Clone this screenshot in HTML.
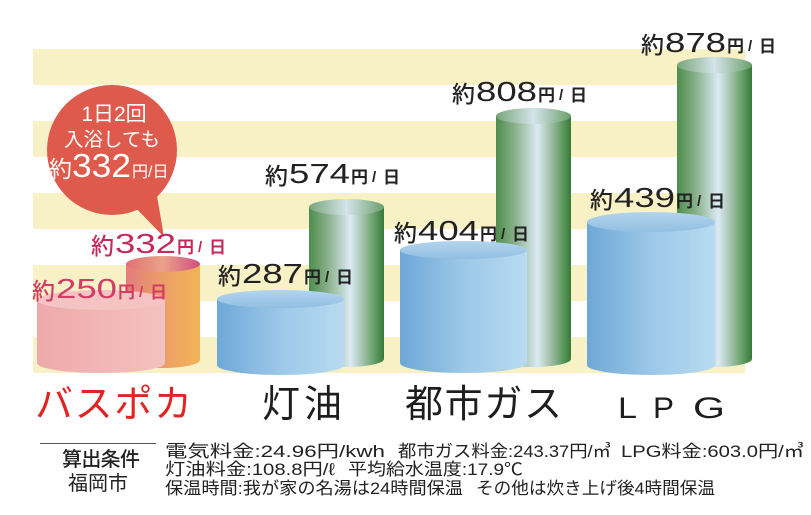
<!DOCTYPE html>
<html>
<head>
<meta charset="utf-8">
<style>
  html, body { margin:0; padding:0; background:#ffffff; }
  body { width:811px; height:515px; overflow:hidden; }
  svg { display:block; }
  .cjk { font-family: "Liberation Sans", "Noto Sans CJK JP", sans-serif; }
  .num { font-family: "Liberation Sans", "DejaVu Sans", sans-serif; }
</style>
</head>
<body>
<svg width="811" height="515" viewBox="0 0 811 515" xmlns="http://www.w3.org/2000/svg">
  <defs>
    <linearGradient id="gBody" x1="0" y1="0" x2="1" y2="0">
      <stop offset="0" stop-color="#4e8c4e"/>
      <stop offset="0.25" stop-color="#88b188"/>
      <stop offset="0.55" stop-color="#dbeaf3"/>
      <stop offset="0.7" stop-color="#abc6b3"/>
      <stop offset="0.9" stop-color="#5a975a"/>
      <stop offset="1" stop-color="#3a783a"/>
    </linearGradient>
    <linearGradient id="gTop" x1="0" y1="0" x2="1" y2="0">
      <stop offset="0" stop-color="#78a478"/>
      <stop offset="0.5" stop-color="#d4e4ea"/>
      <stop offset="1" stop-color="#6c9f6c"/>
    </linearGradient>
    <linearGradient id="bBody" x1="0" y1="0" x2="1" y2="0">
      <stop offset="0" stop-color="#6ea8d8"/>
      <stop offset="0.5" stop-color="#9cc8e8"/>
      <stop offset="1" stop-color="#b8dbf1"/>
    </linearGradient>
    <linearGradient id="bTop" x1="0" y1="0" x2="0" y2="1">
      <stop offset="0" stop-color="#b2d5ee"/>
      <stop offset="1" stop-color="#92bfe2"/>
    </linearGradient>
    <linearGradient id="pBody" x1="0" y1="0" x2="1" y2="0">
      <stop offset="0" stop-color="#eeaaaa"/>
      <stop offset="1" stop-color="#f4c2c0"/>
    </linearGradient>
    <linearGradient id="oBody" x1="0" y1="0" x2="1" y2="0">
      <stop offset="0" stop-color="#e47c7c"/>
      <stop offset="0.45" stop-color="#eb9c6a"/>
      <stop offset="1" stop-color="#f2b456"/>
    </linearGradient>
    <linearGradient id="oTop" x1="0" y1="0" x2="1" y2="0">
      <stop offset="0" stop-color="#e07272"/>
      <stop offset="0.5" stop-color="#eba28a"/>
      <stop offset="1" stop-color="#d24e80"/>
    </linearGradient>
  </defs>

  <!-- stripes -->
  <g fill="#f8f1c6">
    <rect x="33" y="49" width="712" height="36"/>
    <rect x="33" y="121" width="712" height="36"/>
    <rect x="33" y="193" width="712" height="36"/>
    <rect x="33" y="265" width="712" height="36"/>
    <rect x="33" y="337" width="712" height="36"/>
  </g>

  <!-- orange 332 -->
  <g>
    <rect x="126" y="264" width="74" height="96" fill="url(#oBody)"/>
    <ellipse cx="163" cy="360" rx="37" ry="8" fill="url(#oBody)"/>
    <ellipse cx="163" cy="264" rx="37" ry="8" fill="url(#oTop)"/>
  </g>
  <!-- pink 250 -->
  <g>
    <rect x="37" y="300" width="128" height="63" fill="url(#pBody)"/>
    <ellipse cx="101" cy="363" rx="64" ry="10" fill="url(#pBody)"/>
    <ellipse cx="101" cy="300" rx="64" ry="10" fill="#f4c4c2"/>
  </g>

  <!-- green 574 -->
  <g>
    <rect x="309" y="207" width="75" height="152" fill="url(#gBody)"/>
    <ellipse cx="346.5" cy="359" rx="37.5" ry="8" fill="url(#gBody)"/>
    <ellipse cx="346.5" cy="207" rx="37.5" ry="8" fill="url(#gTop)"/>
  </g>
  <!-- blue 287 -->
  <g>
    <rect x="217" y="299" width="127" height="66" fill="url(#bBody)"/>
    <ellipse cx="280.5" cy="365" rx="63.5" ry="10" fill="url(#bBody)"/>
    <ellipse cx="280.5" cy="299" rx="63.5" ry="9" fill="url(#bTop)"/>
  </g>

  <!-- green 808 -->
  <g>
    <rect x="496" y="116" width="75" height="243" fill="url(#gBody)"/>
    <ellipse cx="533.5" cy="359" rx="37.5" ry="8" fill="url(#gBody)"/>
    <ellipse cx="533.5" cy="116" rx="37.5" ry="8" fill="url(#gTop)"/>
  </g>
  <!-- blue 404 -->
  <g>
    <rect x="400" y="250" width="127" height="113" fill="url(#bBody)"/>
    <ellipse cx="463.5" cy="363" rx="63.5" ry="10" fill="url(#bBody)"/>
    <ellipse cx="463.5" cy="250" rx="63.5" ry="9" fill="url(#bTop)"/>
  </g>

  <!-- green 878 -->
  <g>
    <rect x="677" y="65" width="75" height="294" fill="url(#gBody)"/>
    <ellipse cx="714.5" cy="359" rx="37.5" ry="8" fill="url(#gBody)"/>
    <ellipse cx="714.5" cy="65" rx="37.5" ry="8" fill="url(#gTop)"/>
  </g>
  <!-- blue 439 -->
  <g>
    <rect x="587" y="222" width="128" height="143" fill="url(#bBody)"/>
    <ellipse cx="651" cy="365" rx="64" ry="10" fill="url(#bBody)"/>
    <ellipse cx="651" cy="222" rx="64" ry="10" fill="url(#bTop)"/>
  </g>

  <!-- speech bubble -->
  <g fill="#de5a4c">
    <circle cx="112" cy="150" r="65"/>
    <path d="M128 200 L156 190 L164 237 Z"/>
  </g>
  <g fill="#ffffff" class="cjk">
    <text x="114" y="121" font-size="21" text-anchor="middle">1日2回</text>
    <text x="112" y="146" font-size="19.5" text-anchor="middle">入浴しても</text>
    <text x="49" y="177" font-size="23">約</text>
    <text x="72" y="177" font-size="33" class="num" textLength="59" lengthAdjust="spacingAndGlyphs">332</text>
    <text x="132" y="177" font-size="16">円/日</text>
  </g>

  <!-- value labels -->
  <g class="cjk" fill="#222222">
    <g>
      <text x="641" y="53" font-size="23" font-weight="500">約</text>
      <text x="665" y="52" font-size="28" class="num" textLength="61" lengthAdjust="spacingAndGlyphs">878</text>
      <text x="727" y="52" font-size="17" font-weight="bold">円</text>
      <text x="748" y="51" font-size="15" font-weight="bold" class="num">/</text>
      <text x="759" y="52" font-size="17" font-weight="bold">日</text>
    </g>
    <g>
      <text x="452" y="102" font-size="23" font-weight="500">約</text>
      <text x="476" y="101" font-size="28" class="num" textLength="61" lengthAdjust="spacingAndGlyphs">808</text>
      <text x="538" y="101" font-size="17" font-weight="bold">円</text>
      <text x="559" y="100" font-size="15" font-weight="bold" class="num">/</text>
      <text x="570" y="101" font-size="17" font-weight="bold">日</text>
    </g>
    <g>
      <text x="265" y="184" font-size="23" font-weight="500">約</text>
      <text x="289" y="183" font-size="28" class="num" textLength="61" lengthAdjust="spacingAndGlyphs">574</text>
      <text x="351" y="183" font-size="17" font-weight="bold">円</text>
      <text x="372" y="182" font-size="15" font-weight="bold" class="num">/</text>
      <text x="383" y="183" font-size="17" font-weight="bold">日</text>
    </g>
    <g>
      <text x="590" y="208" font-size="23" font-weight="500">約</text>
      <text x="614" y="207" font-size="28" class="num" textLength="61" lengthAdjust="spacingAndGlyphs">439</text>
      <text x="676" y="207" font-size="17" font-weight="bold">円</text>
      <text x="697" y="206" font-size="15" font-weight="bold" class="num">/</text>
      <text x="708" y="207" font-size="17" font-weight="bold">日</text>
    </g>
    <g>
      <text x="394" y="241" font-size="23" font-weight="500">約</text>
      <text x="418" y="240" font-size="28" class="num" textLength="61" lengthAdjust="spacingAndGlyphs">404</text>
      <text x="480" y="240" font-size="17" font-weight="bold">円</text>
      <text x="501" y="239" font-size="15" font-weight="bold" class="num">/</text>
      <text x="512" y="240" font-size="17" font-weight="bold">日</text>
    </g>
    <g>
      <text x="218" y="284" font-size="23" font-weight="500">約</text>
      <text x="242" y="283" font-size="28" class="num" textLength="61" lengthAdjust="spacingAndGlyphs">287</text>
      <text x="304" y="283" font-size="17" font-weight="bold">円</text>
      <text x="325" y="282" font-size="15" font-weight="bold" class="num">/</text>
      <text x="336" y="283" font-size="17" font-weight="bold">日</text>
    </g>
  </g>
  <g class="cjk" fill="#c42a5c">
    <g>
      <text x="91" y="254" font-size="23" font-weight="500">約</text>
      <text x="115" y="253" font-size="28" class="num" textLength="61" lengthAdjust="spacingAndGlyphs">332</text>
      <text x="177" y="253" font-size="17" font-weight="bold">円</text>
      <text x="198" y="252" font-size="15" font-weight="bold" class="num">/</text>
      <text x="209" y="253" font-size="17" font-weight="bold">日</text>
    </g>
  </g>
  <g class="cjk" fill="#d23c66">
    <g>
      <text x="32" y="299" font-size="23" font-weight="500">約</text>
      <text x="56" y="298" font-size="28" class="num" textLength="61" lengthAdjust="spacingAndGlyphs">250</text>
      <text x="118" y="298" font-size="17" font-weight="bold">円</text>
      <text x="139" y="297" font-size="15" font-weight="bold" class="num">/</text>
      <text x="150" y="298" font-size="17" font-weight="bold">日</text>
    </g>
  </g>

  <!-- category labels -->
  <g class="cjk" font-size="38">
    <text x="35" y="417" fill="#e02424" textLength="157">バスポカ</text>
    <text x="262" y="417" fill="#1e1e1e" textLength="80">灯油</text>
    <text x="405" y="417" fill="#1e1e1e" textLength="157">都市ガス</text>
  </g>
  <g class="num" font-size="30" fill="#1e1e1e">
    <text x="618" y="418" textLength="19" lengthAdjust="spacingAndGlyphs">L</text>
    <text x="653" y="418" textLength="21" lengthAdjust="spacingAndGlyphs">P</text>
    <text x="693" y="418" textLength="32" lengthAdjust="spacingAndGlyphs">G</text>
  </g>

  <!-- conditions -->
  <line x1="40" y1="443.5" x2="156" y2="443.5" stroke="#555555" stroke-width="1"/>
  <g class="cjk" fill="#222222">
    <text x="62" y="466" font-size="20" font-weight="500" textLength="78">算出条件</text>
    <text x="68" y="490" font-size="20" textLength="60">福岡市</text>
  </g>
  <g class="cjk" fill="#222222" font-size="17">
    <text x="165" y="457" textLength="220" lengthAdjust="spacingAndGlyphs">電気料金:24.96円/kwh</text>
    <text x="398" y="457" textLength="213" lengthAdjust="spacingAndGlyphs">都市ガス料金:243.37円/㎥</text>
    <text x="621" y="457" textLength="183" lengthAdjust="spacingAndGlyphs">LPG料金:603.0円/㎥</text>
    <text x="165" y="475" textLength="170" lengthAdjust="spacingAndGlyphs">灯油料金:108.8円/ℓ</text>
    <text x="348" y="475" textLength="175" lengthAdjust="spacingAndGlyphs">平均給水温度:17.9℃</text>
    <text x="165" y="494" textLength="298" lengthAdjust="spacingAndGlyphs">保温時間:我が家の名湯は24時間保温</text>
    <text x="476" y="494" textLength="239" lengthAdjust="spacingAndGlyphs">その他は炊き上げ後4時間保温</text>
  </g>
</svg>
</body>
</html>
